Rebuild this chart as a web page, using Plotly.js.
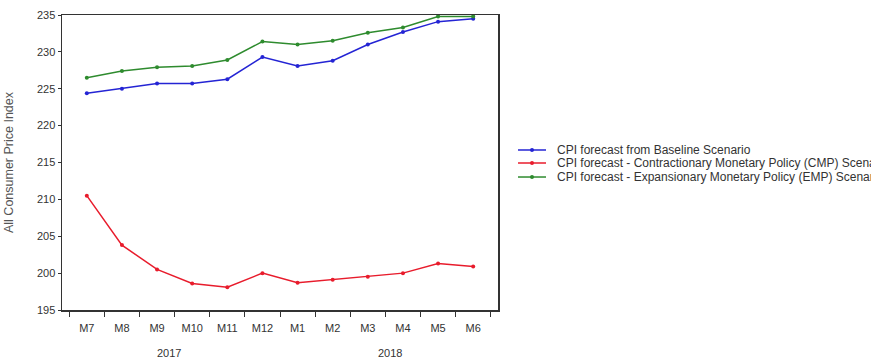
<!DOCTYPE html>
<html>
<head>
<meta charset="utf-8">
<script src="https://cdn.plot.ly/plotly-3.0.1.min.js"></script>
<style>
  html, body { margin: 0; padding: 0; background: #fff; }
  #chart { width: 871px; height: 360px; }
</style>
</head>
<body>
<div id="chart"></div>
<script>
// Monthly forecast horizon, Jul 2017 – Jun 2018
const months = ["M7", "M8", "M9", "M10", "M11", "M12", "M1", "M2", "M3", "M4", "M5", "M6"];
const yearLabels = ["2017", "2018"];

// CPI forecasts under each scenario
const baseline = [224.4, 225.0, 225.7, 225.7, 226.3, 229.3, 228.1, 228.8, 231.0, 232.7, 234.1, 234.5];
const contractionary = [210.5, 203.8, 200.5, 198.6, 198.1, 200.0, 198.7, 199.1, 199.5, 200.0, 201.3, 200.9];
const expansionary = [226.5, 227.4, 227.9, 228.1, 228.9, 231.4, 231.0, 231.5, 232.6, 233.3, 234.8, 234.8];

const seriesNames = [
  "CPI forecast from Baseline Scenario",
  "CPI forecast - Contractionary Monetary Policy (CMP) Scenario",
  "CPI forecast - Expansionary Monetary Policy (EMP) Scenario"
];
const colors = ["#2424d4", "#e81c2c", "#2e8b2e"];

const family = "Liberation Sans, Arial, sans-serif";
const tickFont = { family: family, size: 11, color: "#333" };

function line(y, i) {
  return {
    x: months, y: y, name: seriesNames[i], type: "scatter", mode: "lines+markers",
    line: { color: colors[i], width: 1.5 },
    marker: { color: colors[i], size: 4 },
    showlegend: false
  };
}

const data = [line(baseline, 0), line(contractionary, 1), line(expansionary, 2)];

// Compact key to the right of the plot: a short line with a dot, then the label
const keyX0 = 1.0459, keyX1 = 1.1101, keyTextX = 1.1307;
const keyRows = [0.5424, 0.4983, 0.4508];
const dotDx = 0.0046, dotDy = 0.0068;
const shapes = [];
const annotations = [];
seriesNames.forEach((name, i) => {
  const yy = keyRows[i];
  const xm = (keyX0 + keyX1) / 2;
  shapes.push({ type: "line", xref: "paper", yref: "paper", x0: keyX0, x1: keyX1, y0: yy, y1: yy,
    line: { color: colors[i], width: 1.5 } });
  shapes.push({ type: "circle", xref: "paper", yref: "paper", x0: xm - dotDx, x1: xm + dotDx,
    y0: yy - dotDy, y1: yy + dotDy, fillcolor: colors[i], line: { color: colors[i], width: 0 } });
  annotations.push({ text: name, xref: "paper", yref: "paper", x: keyTextX, y: yy,
    xanchor: "left", yanchor: "middle", showarrow: false,
    font: { family: family, size: 12, color: "#333" } });
});

// Year labels beneath the month ticks
annotations.push({ text: yearLabels[0], x: 2.33, y: -0.146, xref: "x", yref: "paper", yanchor: "middle",
  showarrow: false, font: tickFont });
annotations.push({ text: yearLabels[1], x: 8.63, y: -0.146, xref: "x", yref: "paper", yanchor: "middle",
  showarrow: false, font: tickFont });

const layout = {
  width: 871, height: 360,
  margin: { l: 62, r: 373, t: 15, b: 50, autoexpand: false },
  paper_bgcolor: "#fff", plot_bgcolor: "#fff",
  font: tickFont,
  showlegend: false,
  xaxis: {
    type: "category", categoryorder: "array", categoryarray: months,
    showgrid: false, zeroline: false,
    showline: true, mirror: true, linecolor: "#333", linewidth: 1.5,
    ticks: "outside", tickson: "boundaries", ticklen: 5, tickcolor: "#333",
    ticklabelstandoff: 7,
    tickfont: tickFont
  },
  yaxis: {
    range: [195, 235], dtick: 5, tick0: 195,
    showgrid: false, zeroline: false,
    showline: true, mirror: true, linecolor: "#333", linewidth: 1.5,
    ticks: "outside", ticklen: 3, tickcolor: "#333",
    tickfont: tickFont,
    title: { text: "All Consumer Price Index", font: { family: family, size: 12.5, color: "#555" }, standoff: 20 }
  },
  shapes: shapes,
  annotations: annotations
};

Plotly.newPlot("chart", data, layout, { displayModeBar: false, staticPlot: true });
</script>
</body>
</html>
